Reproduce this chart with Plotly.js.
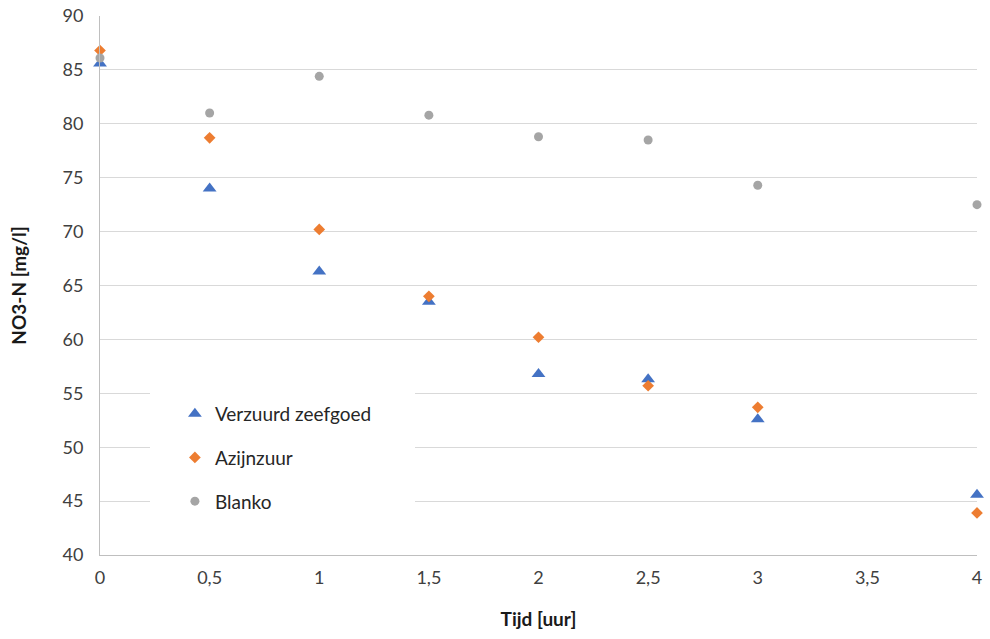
<!DOCTYPE html>
<html>
<head>
<meta charset="utf-8">
<script src="https://cdn.plot.ly/plotly-3.0.1.min.js"></script>
<style>html,body{margin:0;padding:0;background:#fff;}#chart{width:990px;height:639px;}</style>
</head>
<body>
<div id="chart"></div>
<script>
const tijd = [0, 0.5, 1, 1.5, 2, 2.5, 3, 4];
const verzuurd = [85.6, 74.0, 66.3, 63.5, 56.8, 56.3, 52.6, 45.6];
const azijnzuur = [86.8, 78.7, 70.2, 64.0, 60.2, 55.7, 53.7, 43.9];
const blanko = [86.1, 81.0, 84.4, 80.8, 78.8, 78.5, 74.3, 72.5];
const seriesNames = ['Verzuurd zeefgoed', 'Azijnzuur', 'Blanko'];
const xTicks = [0, 0.5, 1, 1.5, 2, 2.5, 3, 3.5, 4];
const yTicks = [40, 45, 50, 55, 60, 65, 70, 75, 80, 85, 90];

const font = 'Lato, "Open Sans", "Liberation Sans", sans-serif';

const traces = [
  {x: tijd, y: verzuurd, name: seriesNames[0], legendgroup: 'a', mode: 'markers', type: 'scatter', cliponaxis: false,
   marker: {symbol: 'triangle-up', size: 12, color: '#4472C4'}},
  {x: tijd, y: azijnzuur, name: seriesNames[1], legendgroup: 'b', mode: 'markers', type: 'scatter', cliponaxis: false,
   marker: {symbol: 'diamond', size: 9, color: '#ED7D31'}},
  {x: tijd, y: blanko, name: seriesNames[2], legendgroup: 'c', mode: 'markers', type: 'scatter', cliponaxis: false,
   marker: {symbol: 'circle', size: 9, color: '#A5A5A5'}}
];

const layout = {
  width: 990, height: 639,
  margin: {l: 100, r: 13, t: 16, b: 84},
  paper_bgcolor: '#ffffff', plot_bgcolor: '#ffffff',
  separators: ',.',
  font: {family: font, color: '#404040', size: 18},
  showlegend: true,
  legend: {
    x: 0.0854, y: 0.297, xanchor: 'left', yanchor: 'top',
    bgcolor: 'rgba(0,0,0,0)', borderwidth: 0,
    font: {family: font, size: 19, color: '#262626'},
    traceorder: 'grouped', tracegroupgap: 16, itemwidth: 30
  },
  shapes: [{
    type: 'rect', xref: 'paper', yref: 'paper',
    x0: 50/877, x1: 315/877, y0: 30/539, y1: 170/539,
    fillcolor: '#ffffff', line: {width: 0}, layer: 'above'
  }],
  xaxis: {
    range: [0, 4], tickvals: xTicks, showgrid: false, zeroline: false,
    showline: true, linecolor: '#bfbfbf', linewidth: 1,
    ticks: 'outside', ticklen: 6, tickcolor: 'rgba(0,0,0,0)',
    tickfont: {size: 18, color: '#404040', family: font},
    title: {text: '<b>Tijd [uur]</b>', font: {size: 19, color: '#1a1a1a', family: font}, standoff: 26},
    fixedrange: true
  },
  yaxis: {
    range: [40, 90], tickvals: yTicks, showgrid: true, gridcolor: '#d9d9d9', gridwidth: 1,
    zeroline: false, showline: true, linecolor: '#bfbfbf', linewidth: 1,
    ticks: 'outside', ticklen: 12, tickcolor: 'rgba(0,0,0,0)',
    tickfont: {size: 18, color: '#404040', family: font},
    title: {text: '<b>NO3-N [mg/l]</b>', font: {size: 19, color: '#1a1a1a', family: font}, standoff: 30},
    fixedrange: true
  }
};

Plotly.newPlot('chart', traces, layout, {displayModeBar: false, staticPlot: true});
</script>
</body>
</html>
